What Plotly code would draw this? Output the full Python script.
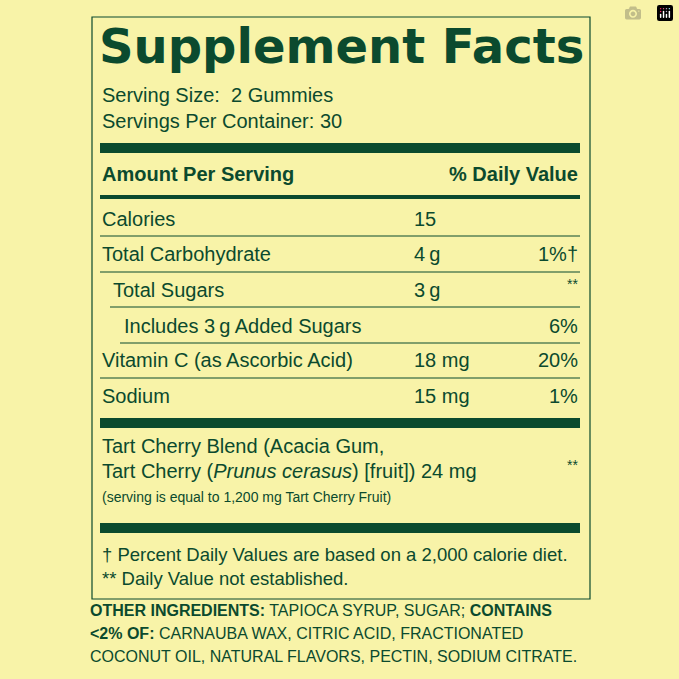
import plotly.graph_objects as go

BG = "#F8F3A8"
GREEN = "#0B4A2E"
FONT = "Liberation Sans Narrow, Liberation Sans, Arial Narrow, sans-serif"

title = "Supplement Facts"
serving = ["Serving Size:  2 Gummies", "Servings Per Container: 30"]
header = ["Amount Per Serving", "% Daily Value"]
nutrients = ["Calories", "Total Carbohydrate", "Total Sugars", "Includes 3\u2009g Added Sugars",
             "Vitamin C (as Ascorbic Acid)", "Sodium"]
indent = [0, 0, 1, 2, 0, 0]
amounts = ["15", "4\u2009g", "3\u2009g", "", "18 mg", "15 mg"]
dv = ["", "1%\u2020", "**", "6%", "20%", "1%"]
blend = ["Tart Cherry Blend (Acacia Gum,",
         "Tart Cherry (<i>Prunus cerasus</i>) [fruit]) 24 mg"]
blend_note = "(serving is equal to 1,200 mg Tart Cherry Fruit)"
foot = ["\u2020 Percent Daily Values are based on a 2,000 calorie diet.",
        "** Daily Value not established."]
other = ["<b>OTHER INGREDIENTS:</b> TAPIOCA SYRUP, SUGAR; <b>CONTAINS</b>",
         "<b><2% OF:</b> CARNAUBA WAX, CITRIC ACID, FRACTIONATED",
         "COCONUT OIL, NATURAL FLAVORS, PECTIN, SODIUM CITRATE."]

fig = go.Figure()
ann = []
shapes = []
L, R = 100, 580

def txt(x, y, s, size=20, anchor="left", bold=False, family=FONT):
    ann.append(dict(x=x, y=y, text=(f"<b>{s}</b>" if bold else s), xref="x", yref="y",
                    showarrow=False, xanchor=anchor, yanchor="middle",
                    font=dict(family=family, size=size, color=GREEN)))

def rect(x0, y0, x1, y1):
    shapes.append(dict(type="rect", xref="x", yref="y", x0=x0, y0=y0, x1=x1, y1=y1,
                       fillcolor=GREEN, line=dict(width=0), layer="above"))

shapes.append(dict(type="rect", xref="x", yref="y", x0=92, y0=17, x1=590, y1=599,
                   line=dict(color=GREEN, width=1.2), fillcolor="rgba(0,0,0,0)"))

txt(341, 46, title, size=48, anchor="center", bold=True, family="DejaVu Sans, sans-serif")
txt(L, 95, serving[0])
txt(L, 121, serving[1])
rect(L, 143, R, 153)
txt(L, 174, header[0], bold=True)
txt(R, 174, header[1], anchor="right", bold=True)
rect(L, 195, R, 199)

rows_y = [219, 254, 290, 326, 360, 396]
lines_y = [236, 272, 307, 343, 378]
line_x = [L, L, 110, 120, L]
for i, n in enumerate(nutrients):
    txt(L + indent[i] * 11, rows_y[i], n)
    if amounts[i]:
        txt(412, rows_y[i], amounts[i])
    if dv[i]:
        star = dv[i] == "**"
        txt(R, rows_y[i] - (6 if star else 0), dv[i], size=(14 if star else 20), anchor="right")
for y, x0 in zip(lines_y, line_x):
    shapes.append(dict(type="line", xref="x", yref="y", x0=x0, x1=R, y0=y, y1=y,
                       line=dict(color=GREEN, width=1)))
rect(L, 418, R, 428)
txt(L, 446, blend[0])
txt(L, 471, blend[1])
txt(R, 465, "**", size=14, anchor="right")
txt(L, 497, blend_note, size=14)
rect(L, 523, R, 533)
txt(L, 554, foot[0], size=18.5)
txt(L, 578, foot[1], size=18.5)
for k, yy in enumerate([610, 633, 656]):
    txt(88, yy, other[k], size=16)

fig.update_layout(width=679, height=679, margin=dict(l=0, r=0, t=0, b=0),
                  paper_bgcolor=BG, plot_bgcolor=BG, annotations=ann, shapes=shapes,
                  xaxis=dict(range=[0, 679], visible=False, fixedrange=True),
                  yaxis=dict(range=[679, 0], visible=False, fixedrange=True),
                  showlegend=False)
fig.write_html("out.html",
               post_script="document.body.style.margin='0';document.body.style.background='#F8F3A8';")
